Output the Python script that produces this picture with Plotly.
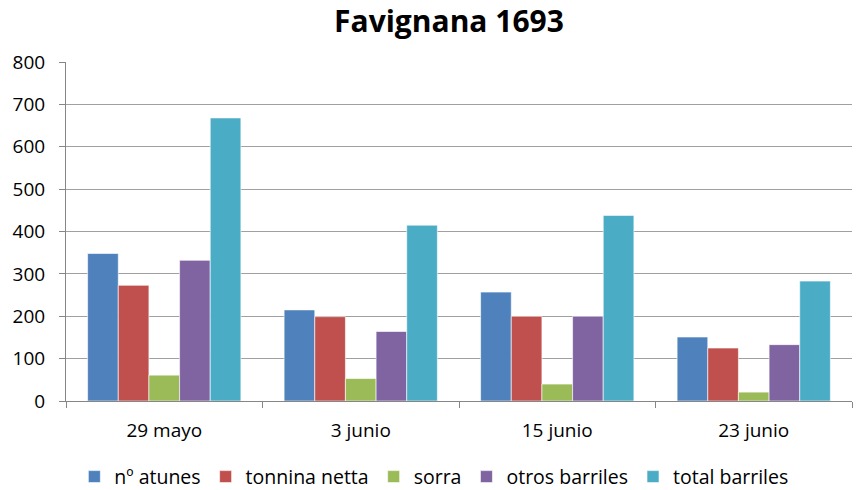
import plotly.graph_objects as go

categories = ["29 mayo", "3 junio", "15 junio", "23 junio"]
atunes = [348, 215, 257, 151]
tonnina = [273, 199, 200, 125]
sorra = [61, 53, 40, 21]
otros = [332, 164, 200, 133]
total = [668, 415, 438, 283]

series_names = ["nº atunes", "tonnina netta", "sorra", "otros barriles", "total barriles"]
series_values = [atunes, tonnina, sorra, otros, total]
colors = ["#4F81BD", "#C0504D", "#9BBB59", "#8064A2", "#4BACC6"]

fig = go.Figure()
for name, vals, col in zip(series_names, series_values, colors):
    fig.add_trace(go.Bar(
        x=categories, y=vals, name=name,
        marker=dict(color=col, line=dict(color="rgba(255,255,255,0.6)", width=1)),
    ))

font_family = "'Open Sans', Lato, sans-serif"
fig.update_layout(
    width=856, height=490,
    paper_bgcolor="white", plot_bgcolor="white",
    margin=dict(l=66, r=4, t=62, b=89, autoexpand=False),
    barmode="group", bargap=0.22, bargroupgap=0,
    title=dict(text="<b>Favignana 1693</b>", x=0.5245, xanchor="center", y=0.957, yanchor="middle",
               font=dict(family=font_family, size=30, color="black")),
    font=dict(family=font_family, size=19, color="black"),
    showlegend=True,
    legend=dict(orientation="h", x=0.468, xanchor="center", y=-0.224, yanchor="middle",
                font=dict(size=19.5), itemwidth=30, traceorder="normal"),
)
fig.update_yaxes(range=[0, 800], dtick=100, showgrid=True, gridcolor="#A0A0A0", gridwidth=1,
                 showline=True, linecolor="#868686", linewidth=1, ticks="outside", ticklen=6,
                 tickcolor="#868686", zeroline=False, tickfont=dict(size=19),
                 ticklabelstandoff=10)
fig.update_xaxes(showline=True, linecolor="#868686", linewidth=1, ticks="outside", ticklen=6,
                 tickcolor="#868686", tickson="boundaries", tickfont=dict(size=19),
                 ticklabelstandoff=12)

fig.write_html("out.html", config={"displayModeBar": False},
               post_script="document.body.style.margin='0';document.body.style.overflow='hidden';")
